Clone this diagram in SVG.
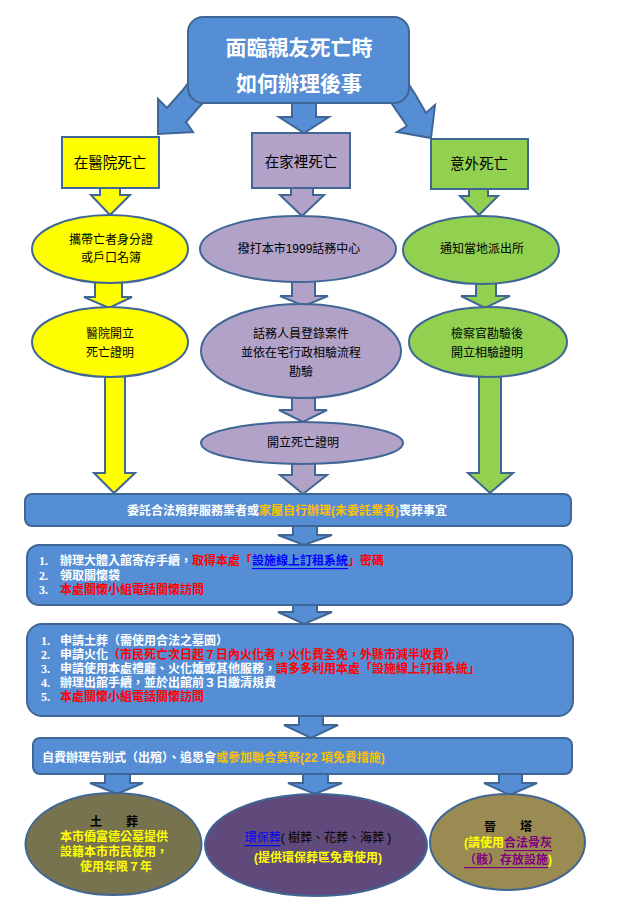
<svg xmlns="http://www.w3.org/2000/svg" width="640" height="902" viewBox="0 0 640 902">
<style>
text{font-family:"Liberation Sans","Noto Sans CJK TC","Noto Sans CJK SC",sans-serif;dominant-baseline:central}
.s{stroke:#3F6694;stroke-width:2;stroke-linejoin:miter}
.bl{fill:#558ED5}
.ye{fill:#FFFF00}
.pu{fill:#B3A2C7}
.gr{fill:#92D050}
.lbl{font-size:14.5px;fill:#000;text-anchor:middle}
.el{font-size:12px;fill:#000;text-anchor:middle}
.w{font-size:12px;font-weight:bold;fill:#fff}
.num{font-family:"Liberation Serif",serif;font-size:12px;font-weight:bold;fill:#fff}
.red{fill:#FF0000}
.org{fill:#FFC000}
.lnk{fill:#0000FF;text-decoration:underline}
.yt{fill:#FFFF00}
.pl{fill:#800080;text-decoration:underline}
.bt{font-size:12px;font-weight:bold;text-anchor:middle}
</style>
<rect width="640" height="902" fill="#fff"/>
<g id="connectors">
  <polygon class="s bl" points="158,134 158,99 167,108 182,91 192,78 208,98 199,107 186,122 193,132"/>
  <polygon class="s bl" points="292,98 316,98 316,117 329,117 304,133 279,117 292,117"/>
  <polygon class="s bl" points="431,138 435,105 426,113 415,94 404,77 388,98 394,107 407,126 397,132"/>
  <polygon class="s ye" points="100,186 120,186 120,195 130,195 110,215 91,195 100,195"/>
  <polygon class="s pu" points="291,186 313,186 313,195 324,195 302,216 280,195 291,195"/>
  <polygon class="s gr" points="469,187 488,187 488,196 498,196 479,215 460,196 469,196"/>
  <polygon class="s ye" points="95,278 122,278 122,297 132,297 109,308 84,297 95,297"/>
  <polygon class="s pu" points="292,278 315,278 315,296 328,296 304,306 280,296 292,296"/>
  <polygon class="s gr" points="476,280 496,280 496,296 510,296 485,308 461,296 476,296"/>
  <polygon class="s pu" points="292,394 315,394 315,410 327,410 303,422 279,410 292,410"/>
  <polygon class="s ye" points="105,372 125,372 125,473 135,473 114,493 94,473 105,473"/>
  <polygon class="s pu" points="292,460 315,460 315,475 327,475 303,494 280,475 292,475"/>
  <polygon class="s gr" points="479,372 501,372 501,473 513,473 490,493 468,473 479,473"/>
  <polygon class="s bl" points="293,524 317,524 317,535 332,535 304,545 278,535 293,535"/>
  <polygon class="s bl" points="293,603 317,603 317,612 332,612 304,624 278,612 293,612"/>
  <polygon class="s bl" points="299,714 323,714 323,725 338,725 311,738 284,725 299,725"/>
  <polygon class="s bl" points="105,772 130,772 130,783 143,783 117,794 90,783 105,783"/>
  <polygon class="s bl" points="303,772 328,772 328,783 342,783 315,794 288,783 303,783"/>
  <polygon class="s bl" points="499,772 522,772 522,783 537,783 510,795 484,783 499,783"/>
</g>
<g id="title">
  <rect class="s bl" x="188" y="17" width="221" height="86" rx="15" stroke-width="2.5"/>
  <text x="299" y="47" text-anchor="middle" font-size="21" font-weight="bold" fill="#fff">面臨親友死亡時</text>
  <text x="299" y="83" text-anchor="middle" font-size="21" font-weight="bold" fill="#fff">如何辦理後事</text>
</g>
<g id="hospital">
  <rect class="s ye" x="62" y="137" width="97" height="51"/>
  <text class="lbl" x="110" y="163">在醫院死亡</text>
</g>
<g id="home">
  <rect class="s pu" x="252" y="133" width="98" height="55"/>
  <text class="lbl" x="301" y="162">在家裡死亡</text>
</g>
<g id="accident">
  <rect class="s gr" x="431" y="139" width="97" height="50"/>
  <text class="lbl" x="479" y="164">意外死亡</text>
</g>
<g id="hospital-id">
  <ellipse class="s ye" cx="110" cy="249" rx="78" ry="34"/>
  <text class="el" x="111" y="240">攜帶亡者身分證</text>
  <text class="el" x="111" y="258">或戶口名簿</text>
</g>
<g id="home-1999">
  <ellipse class="s pu" cx="298" cy="249" rx="98" ry="33"/>
  <text class="el" x="299" y="249">撥打本市1999話務中心</text>
</g>
<g id="accident-police">
  <ellipse class="s gr" cx="481" cy="250" rx="78" ry="34"/>
  <text class="el" x="482" y="249">通知當地派出所</text>
</g>
<g id="hospital-cert">
  <ellipse class="s ye" cx="110" cy="342" rx="78" ry="35"/>
  <text class="el" x="110" y="334">醫院開立</text>
  <text class="el" x="110" y="353">死亡證明</text>
</g>
<g id="home-register">
  <ellipse class="s pu" cx="301" cy="351" rx="100" ry="47"/>
  <text class="el" x="301" y="334">話務人員登錄案件</text>
  <text class="el" x="301" y="353">並依在宅行政相驗流程</text>
  <text class="el" x="301" y="372">勘驗</text>
</g>
<g id="accident-cert">
  <ellipse class="s gr" cx="488" cy="342" rx="79" ry="35"/>
  <text class="el" x="487" y="334">檢察官勘驗後</text>
  <text class="el" x="487" y="353">開立相驗證明</text>
</g>
<g id="home-cert">
  <ellipse class="s pu" cx="302" cy="443" rx="101" ry="21"/>
  <text class="el" x="303" y="443">開立死亡證明</text>
</g>
<g id="step1">
  <rect class="s bl" x="25" y="494" width="546" height="32" rx="7"/>
  <text class="w" x="287" y="511" text-anchor="middle">委託合法殯葬服務業者或<tspan class="org">家屬自行辦理(未委託業者)</tspan>喪葬事宜</text>
</g>
<g id="step2">
  <rect class="s bl" x="27" y="545" width="545" height="60" rx="12"/>
  <text class="num" x="39" y="561">1.</text>
  <text class="w" x="60" y="561">辦理大體入館寄存手續，<tspan class="red">取得本處「</tspan><tspan class="lnk">設施線上訂租系統</tspan><tspan class="red">」密碼</tspan></text>
  <text class="num" x="39" y="576">2.</text>
  <text class="w" x="60" y="576">領取關懷袋</text>
  <text class="num" x="39" y="590">3.</text>
  <text class="w red" x="60" y="590">本處關懷小組電話關懷訪問</text>
</g>
<g id="step3">
  <rect class="s bl" x="27" y="624" width="546" height="92" rx="15"/>
  <text class="num" x="41" y="641">1.</text>
  <text class="w" x="60" y="641">申請土葬（需使用合法之墓園）</text>
  <text class="num" x="41" y="655">2.</text>
  <text class="w" x="60" y="655">申請火化<tspan class="red">（市民死亡次日起７日內火化者，火化費全免，外縣市減半收費）</tspan></text>
  <text class="num" x="41" y="669">3.</text>
  <text class="w" x="60" y="669">申請使用本處禮廳、火化爐或其他服務，<tspan class="red">請多多利用本處「設施線上訂租系統」</tspan></text>
  <text class="num" x="41" y="683">4.</text>
  <text class="w" x="60" y="683">辦理出館手續，並於出館前３日繳清規費</text>
  <text class="num" x="41" y="697">5.</text>
  <text class="w red" x="60" y="697">本處關懷小組電話關懷訪問</text>
</g>
<g id="step4">
  <rect class="s bl" x="33" y="738" width="539" height="36" rx="7"/>
  <text class="w" x="42" y="758">自費辦理告別式（出殯）、追思會<tspan class="org">或參加聯合奠祭(22 項免費措施)</tspan></text>
</g>
<g id="burial">
  <ellipse class="s" cx="113.5" cy="844" rx="88" ry="51" fill="#78734F"/>
  <text class="bt" x="114" y="822" fill="#000">土　　葬</text>
  <text class="bt yt" x="114" y="837">本市僑富德公墓提供</text>
  <text class="bt yt" x="114" y="852">設籍本市市民使用，</text>
  <text class="bt yt" x="116" y="867">使用年限７年</text>
</g>
<g id="eco">
  <ellipse class="s" cx="316" cy="845" rx="111" ry="51" fill="#604A7B"/>
  <text x="318" y="838" font-size="12" text-anchor="middle" fill="#000"><tspan class="lnk">環保葬</tspan>( 樹葬、花葬、海葬 )</text>
  <text class="bt yt" x="318" y="858" font-size="13">(提供環保葬區免費使用)</text>
</g>
<g id="tower">
  <ellipse class="s" cx="507.5" cy="842" rx="77.5" ry="48" fill="#9A8B52"/>
  <text class="bt" x="508" y="827" fill="#000">晉　　塔</text>
  <text class="bt" x="508" y="843"><tspan class="yt">(請使用</tspan><tspan class="pl">合法骨灰</tspan></text>
  <text class="bt" x="508" y="860"><tspan class="pl">（骸）存放設施</tspan><tspan class="yt">)</tspan></text>
</g>
</svg>
